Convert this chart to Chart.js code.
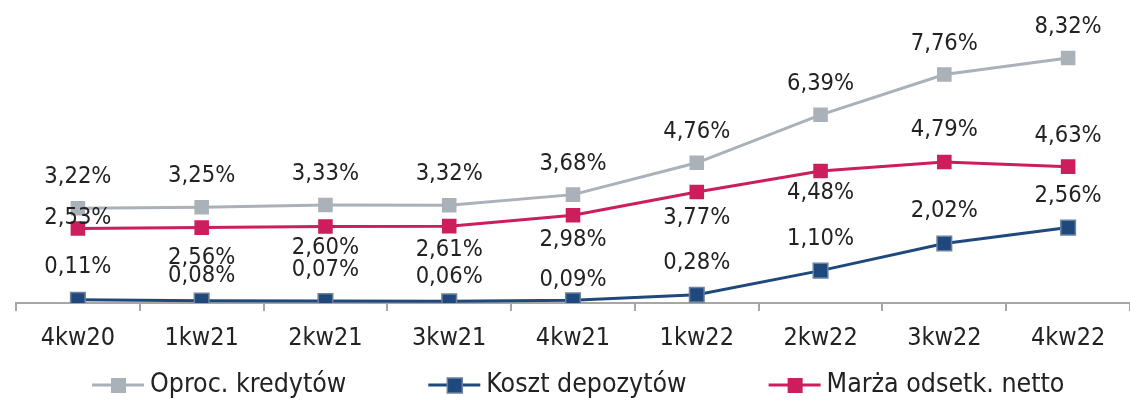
<!DOCTYPE html>
<html>
<head>
<meta charset="utf-8">
<script src="https://cdn.jsdelivr.net/npm/chart.js@4.4.0/dist/chart.umd.min.js"></script>
<style>
  html, body { margin: 0; padding: 0; background: #fff; }
</style>
</head>
<body>
<canvas id="chart" width="1130" height="400"></canvas>
<script>
const categories = ['4kw20', '1kw21', '2kw21', '3kw21', '4kw21', '1kw22', '2kw22', '3kw22', '4kw22'];
const oprocKredytow = [3.22, 3.25, 3.33, 3.32, 3.68, 4.76, 6.39, 7.76, 8.32];
const kosztDepozytow = [0.11, 0.08, 0.07, 0.06, 0.09, 0.28, 1.10, 2.02, 2.56];
const marzaOdsetkowa = [2.53, 2.56, 2.60, 2.61, 2.98, 3.77, 4.48, 4.79, 4.63];
const seriesNames = ['Oproc. kredytów', 'Koszt depozytów', 'Marża odsetk. netto'];

const FONT = '"DejaVu Sans Condensed", "DejaVu Sans", sans-serif';
const TEXT = '#222222';

// labels like 3,22% drawn next to each point
const valueLabels = {
    id: 'valueLabels',
    afterDatasetsDraw(chart) {
        const ctx = chart.ctx;
        ctx.save();
        ctx.font = '23.5px ' + FONT;
        ctx.fillStyle = TEXT;
        ctx.textAlign = 'center';
        ctx.textBaseline = 'middle';
        chart.data.datasets.forEach((ds, i) => {
            chart.getDatasetMeta(i).data.forEach((pt, j) => {
                const text = ds.data[j].toFixed(2).replace('.', ',') + '%';
                ctx.fillText(text, pt.x, pt.y + ds.labelOffsets[j]);
            });
        });
        ctx.restore();
    }
};

// legend with line + square marker
const lineLegend = {
    id: 'lineLegend',
    afterDraw(chart, args, opts) {
        const ctx = chart.ctx;
        ctx.save();
        ctx.font = opts.size + 'px ' + FONT;
        ctx.textBaseline = 'middle';
        let x = opts.x;
        const y = opts.y;
        chart.data.datasets.forEach(ds => {
            ctx.strokeStyle = ds.borderColor;
            ctx.lineWidth = 3;
            ctx.beginPath();
            ctx.moveTo(x, y);
            ctx.lineTo(x + 52, y);
            ctx.stroke();
            ctx.fillStyle = ds.pointBackgroundColor;
            ctx.fillRect(x + 19, y - 7, 15, 15);
            if (ds.pointBorderWidth > 0) {
                ctx.strokeStyle = ds.pointBorderColor;
                ctx.lineWidth = ds.pointBorderWidth;
                ctx.strokeRect(x + 19, y - 7, 15, 15);
            }
            ctx.fillStyle = TEXT;
            ctx.fillText(ds.label, x + 58, y);
            x += 58 + ctx.measureText(ds.label).width + 82;
        });
        ctx.restore();
    }
};

function series(label, values, color, offsets, border) {
    return {
        label: label,
        data: values,
        borderColor: color,
        backgroundColor: color,
        borderWidth: 3,
        tension: 0,
        pointStyle: 'rect',
        pointRadius: 10.3,
        pointHoverRadius: 10.3,
        pointBackgroundColor: color,
        pointBorderColor: border || color,
        pointBorderWidth: border ? 1.5 : 0,
        labelOffsets: offsets
    };
}

new Chart(document.getElementById('chart'), {
    type: 'line',
    data: {
        labels: categories,
        datasets: [
            series(seriesNames[0], oprocKredytow, '#aab1b9', [-31, -31, -31, -31, -31, -31, -31, -31, -31]),
            series(seriesNames[1], kosztDepozytow, '#1f497d', [-33, -25, -31, -24, -20, -32, -32, -33, -32], '#6b819e'),
            series(seriesNames[2], marzaOdsetkowa, '#cc1d5c', [-11, 30, 21, 24, 25, 26, 22, -32, -31])
        ]
    },
    options: {
        responsive: false,
        devicePixelRatio: 1,
        animation: false,
        layout: { autoPadding: false, padding: { left: 16, right: 0, top: 8.5, bottom: 35 } },
        plugins: {
            legend: { display: false },
            tooltip: { enabled: false },
            lineLegend: { x: 92, y: 385, size: 26.5 }
        },
        scales: {
            x: {
                offset: true,
                grid: {
                    offset: true,
                    drawOnChartArea: false,
                    drawTicks: true,
                    tickLength: 8,
                    color: '#a6a6a6',
                    lineWidth: 2
                },
                border: { display: true, color: '#a6a6a6', width: 2 },
                ticks: {
                    color: TEXT,
                    padding: 12,
                    font: { family: FONT, size: 25 }
                }
            },
            y: {
                display: false,
                min: 0,
                max: 10
            }
        }
    },
    plugins: [valueLabels, lineLegend]
});
</script>
</body>
</html>
